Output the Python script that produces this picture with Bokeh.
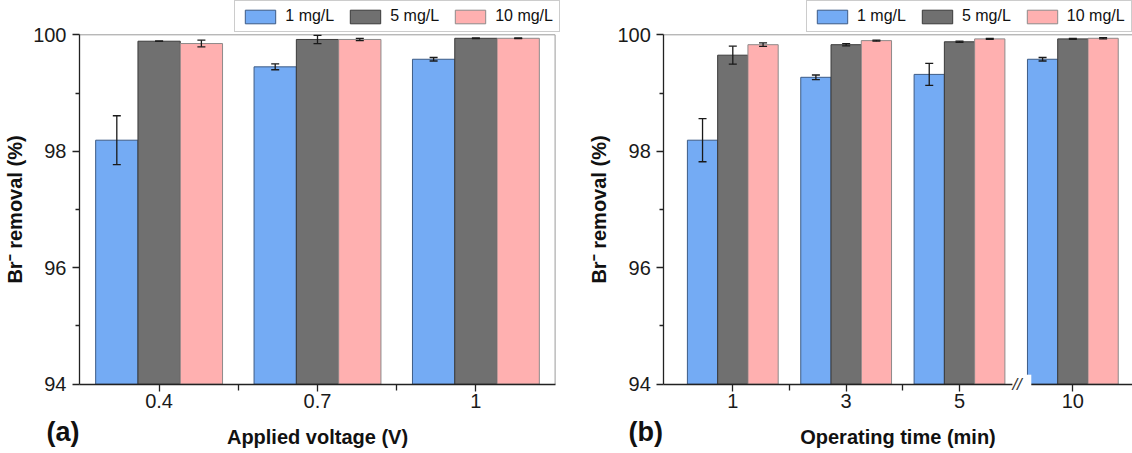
from bokeh.plotting import figure
from bokeh.models import (Range1d, FixedTicker, Legend, LegendItem, Whisker, TeeHead,
                          ColumnDataSource, Label)
from bokeh.layouts import row
from bokeh.embed import file_html
from bokeh.resources import INLINE

# ---------------- data ----------------
series = ["1 mg/L", "5 mg/L", "10 mg/L"]

voltage_labels = ["0.4", "0.7", "1"]
volt_1 = [98.19, 99.45, 99.58]
volt_1_err = [0.42, 0.05, 0.03]
volt_5 = [99.89, 99.92, 99.94]
volt_5_err = [0.0, 0.07, 0.005]
volt_10 = [99.85, 99.92, 99.94]
volt_10_err = [0.057, 0.02, 0.005]

time_labels = ["1", "3", "5", "10"]
time_1 = [98.19, 99.27, 99.32, 99.58]
time_1_err = [0.37, 0.04, 0.19, 0.03]
time_5 = [99.65, 99.83, 99.88, 99.93]
time_5_err = [0.155, 0.02, 0.01, 0.01]
time_10 = [99.83, 99.90, 99.93, 99.94]
time_10_err = [0.03, 0.01, 0.01, 0.01]

y_min, y_max = 94, 100
y_ticks = [94, 96, 98, 100]
y_minor = [95, 97, 99]

# ---------------- style / layout (pixels) ----------------
FONT = "Liberation Sans"
fills = ["#74abf4", "#707070", "#ffb0b0"]
edges = ["#3d5b85", "#3a3a3a", "#8e8a8a"]
FRAME_C = "#9a9a9a"
BAR_W = 0.267
W, H = 566, 453
TOP_PX, BOT_PX = 34.3, 383.7          # pixel rows of y=100 and y=94
PX_PER_Y = (BOT_PX - TOP_PX) / (y_max - y_min)


def make_panel(labels, vals, errs, axis_px, first_px, spacing_px, right_end, xlabel, tag,
               tag_px, legend_px, breaks=None, right_frame=True):
    # x range chosen so that the whole canvas is the frame (axes are fixed inside it)
    x0 = -first_px / spacing_px
    x1 = (W - first_px) / spacing_px
    y0 = y_min - (H - BOT_PX) / PX_PER_Y
    y1 = y_max + TOP_PX / PX_PER_Y
    x_axis_at = (axis_px - first_px) / spacing_px
    x_right = right_end if right_end is not None else x1

    p = figure(width=W, height=H, output_backend="svg", toolbar_location=None,
               x_range=Range1d(x0, x1), y_range=Range1d(y0, y1),
               min_border_left=0, min_border_right=0, min_border_top=0, min_border_bottom=0)
    p.xgrid.visible = False
    p.ygrid.visible = False
    p.outline_line_color = None
    p.background_fill_color = "white"
    p.border_fill_color = "white"

    # frame lines (top, and right for a closed box)
    p.segment(x0=[x_axis_at], y0=[y_max], x1=[x_right], y1=[y_max], line_color=FRAME_C, line_width=1)
    if right_frame:
        p.segment(x0=[x_right], y0=[y_min], x1=[x_right], y1=[y_max], line_color=FRAME_C, line_width=1)

    n = len(labels)
    offsets = [-BAR_W, 0.0, BAR_W]
    items = []
    for k in range(3):
        xs = [i + offsets[k] for i in range(n)]
        r = p.vbar(x=xs, top=vals[k], bottom=y_min, width=BAR_W,
                   fill_color=fills[k], line_color=edges[k], line_width=1)
        items.append(LegendItem(label=series[k], renderers=[r]))
        src = ColumnDataSource(dict(x=xs,
                                    up=[v + e for v, e in zip(vals[k], errs[k])],
                                    lo=[v - e for v, e in zip(vals[k], errs[k])]))
        w = Whisker(source=src, base="x", upper="up", lower="lo", level="overlay",
                    line_color="#1a1a1a", line_width=1.3,
                    upper_head=TeeHead(size=8, line_color="#1a1a1a", line_width=1.3),
                    lower_head=TeeHead(size=8, line_color="#1a1a1a", line_width=1.3))
        p.add_layout(w)

    # axes fixed at the data frame edges
    p.xaxis.fixed_location = y_min
    p.yaxis.fixed_location = x_axis_at
    p.xaxis.bounds = (x_axis_at, x_right)
    p.yaxis.bounds = (y_min, y_max)
    p.xaxis.ticker = FixedTicker(ticks=list(range(n)),
                                 minor_ticks=[i + 0.5 for i in range(n - 1)
                                              if not (breaks and abs(i + 0.5 - breaks[0]) < 0.2)])
    p.xaxis.major_label_overrides = {i: labels[i] for i in range(n)}
    p.yaxis.ticker = FixedTicker(ticks=y_ticks, minor_ticks=y_minor)
    for ax in (p.xaxis[0], p.yaxis[0]):
        ax.axis_line_color = "#222222"
        ax.axis_line_width = 1.3
        ax.major_tick_line_color = "#222222"
        ax.minor_tick_line_color = "#222222"
        ax.major_tick_line_width = 1.3
        ax.minor_tick_line_width = 1.3
        ax.major_tick_in = 0
        ax.major_tick_out = 7
        ax.minor_tick_in = 0
        ax.major_label_text_font = FONT
        ax.major_label_text_font_size = "20px"
        ax.major_label_text_color = "#1a1a1a"
        ax.axis_label_text_font = FONT
        ax.axis_label_text_font_size = "20px"
        ax.axis_label_text_font_style = "bold"
        ax.axis_label_text_color = "#111111"
    p.xaxis.minor_tick_out = 6
    p.yaxis.minor_tick_out = 4
    p.yaxis.major_label_standoff = 6
    p.xaxis.major_label_standoff = 3
    p.xaxis.axis_label = xlabel
    p.xaxis.axis_label_standoff = 14
    p.yaxis.axis_label = "Br\u207b removal (%)"
    p.yaxis.axis_label_standoff = 4

    legend = Legend(items=items, orientation="horizontal",
                    location=(legend_px[0], H - legend_px[1]),
                    glyph_width=38, glyph_height=17, label_height=17, label_width=10,
                    label_standoff=6, spacing=12, padding=6, margin=0,
                    label_text_font=FONT, label_text_font_size="16px",
                    label_text_color="#111111",
                    border_line_color=FRAME_C, border_line_width=1,
                    background_fill_color="white", background_fill_alpha=1.0)
    p.add_layout(legend)

    p.add_layout(Label(x=(tag_px[0] - first_px) / spacing_px,
                       y=y_min - (tag_px[1] - BOT_PX) / PX_PER_Y,
                       text=tag, text_font=FONT, text_font_size="27px",
                       text_font_style="bold", text_align="left", text_baseline="middle",
                       text_color="#111111"))

    if breaks:
        for b in breaks:
            p.add_layout(Label(x=b, y=y_min, text=" // ", text_font=FONT, text_font_size="17px",
                               text_font_style="italic", text_align="center",
                               text_baseline="middle", text_color="#333333",
                               background_fill_color="white", background_fill_alpha=1.0))
    return p


pa = make_panel(voltage_labels, [volt_1, volt_5, volt_10], [volt_1_err, volt_5_err, volt_10_err],
                axis_px=79.0, first_px=158.6, spacing_px=158.4, right_end=2.5,
                xlabel="Applied voltage (V)", tag="(a)", tag_px=(46, 431.7),
                legend_px=(234.3, 32.3), right_frame=True)
pb = make_panel(time_labels, [time_1, time_5, time_10], [time_1_err, time_5_err, time_10_err],
                axis_px=97.3, first_px=166.3, spacing_px=113.35, right_end=None,
                xlabel="Operating time (min)", tag="(b)", tag_px=(62, 431.7),
                legend_px=(240, 32.3), breaks=[2.55], right_frame=False)

layout = row(pa, pb, spacing=0)
open("out.html", "w").write(file_html(layout, INLINE))
